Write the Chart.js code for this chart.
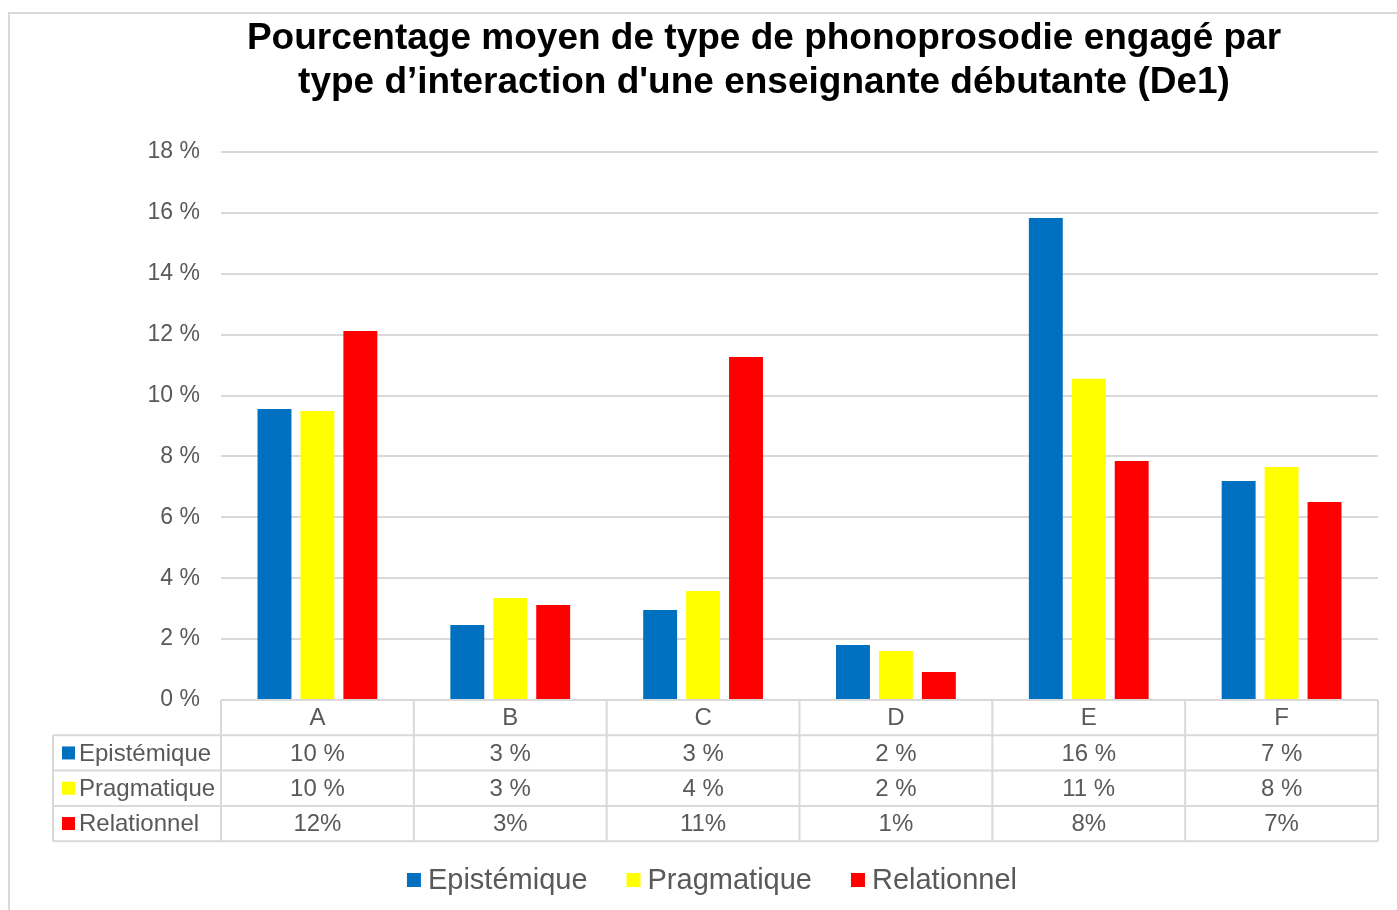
<!DOCTYPE html>
<html>
<head>
<meta charset="utf-8">
<script src="https://cdn.jsdelivr.net/npm/chart.js@4.4.1/dist/chart.umd.min.js"></script>
<style>
  html, body { margin: 0; padding: 0; background: #fff; }
  #wrap { width: 1397px; height: 910px; position: relative; }
</style>
</head>
<body>
<div id="wrap"><canvas id="chart" width="1397" height="910"></canvas></div>
<script>
const categories = ['A', 'B', 'C', 'D', 'E', 'F'];
const seriesNames = ['Epistémique', 'Pragmatique', 'Relationnel'];
const seriesColors = ['#0070C0', '#FFFF00', '#FF0000'];

// bar heights (in %)
const epistemique = [9.56, 2.46, 2.96, 1.81, 15.83, 7.19];
const pragmatique = [9.49, 3.35, 3.58, 1.61, 10.55, 7.65];
const relationnel = [12.12, 3.12, 11.27, 0.92, 7.85, 6.50];

// data table text, as printed under the chart
const epistemiqueLabels = ['10 %', '3 %', '3 %', '2 %', '16 %', '7 %'];
const pragmatiqueLabels = ['10 %', '3 %', '4 %', '2 %', '11 %', '8 %'];
const relationnelLabels = ['12%', '3%', '11%', '1%', '8%', '7%'];

const titleLines = [
    'Pourcentage moyen de type de phonoprosodie engagé par',
    "type d\u2019interaction d'une enseignante débutante (De1)"
];

const textGray = '#595959';
const lineGray = '#d9d9d9';
const fontFam = "'Liberation Sans', Arial, sans-serif";

// title, outer frame, data table and legend
const extras = {
    id: 'extras',
    beforeDraw(chart) {
        const ctx = chart.ctx;
        ctx.save();
        ctx.fillStyle = '#fff';
        ctx.fillRect(0, 0, chart.width, chart.height);
        ctx.strokeStyle = lineGray;
        ctx.lineWidth = 2;
        ctx.strokeRect(9, 13, chart.width + 20, chart.height + 20);
        ctx.restore();
    },
    afterDraw(chart) {
        const ctx = chart.ctx;
        const area = chart.chartArea;
        const x = chart.scales.x;
        const rowH = 35.3;
        const tableLeft = 53;
        const catW = (area.right - area.left) / categories.length;

        ctx.save();
        // title
        ctx.fillStyle = '#000';
        ctx.font = 'bold 37px ' + fontFam;
        ctx.textAlign = 'center';
        ctx.textBaseline = 'middle';
        ctx.fillText(titleLines[0], 764, 39);
        ctx.fillText(titleLines[1], 764, 83);

        // table grid
        ctx.strokeStyle = lineGray;
        ctx.lineWidth = 2;
        ctx.beginPath();
        for (let r = 0; r <= 4; r++) {
            const y = area.bottom + r * rowH;
            ctx.moveTo(r === 0 ? area.left : tableLeft, y);
            ctx.lineTo(area.right, y);
        }
        ctx.moveTo(tableLeft, area.bottom + rowH);
        ctx.lineTo(tableLeft, area.bottom + 4 * rowH);
        for (let i = 0; i <= categories.length; i++) {
            const lx = area.left + i * catW;
            ctx.moveTo(lx, area.bottom);
            ctx.lineTo(lx, area.bottom + 4 * rowH);
        }
        ctx.stroke();

        // table text
        ctx.font = '24px ' + fontFam;
        ctx.fillStyle = textGray;
        ctx.textAlign = 'center';
        const rows = [epistemiqueLabels, pragmatiqueLabels, relationnelLabels];
        categories.forEach((c, i) => {
            const cx = x.getPixelForTick(i);
            ctx.fillText(c, cx, area.bottom + rowH * 0.5 + 1);
            rows.forEach((row, r) => {
                ctx.fillText(row[i], cx, area.bottom + rowH * (r + 1.5) + 1);
            });
        });
        ctx.textAlign = 'left';
        seriesNames.forEach((name, r) => {
            const cy = area.bottom + rowH * (r + 1.5);
            ctx.fillStyle = seriesColors[r];
            ctx.fillRect(62, cy - 6.5, 13, 13);
            ctx.fillStyle = textGray;
            ctx.fillText(name, 79, cy + 1);
        });

        // legend
        ctx.font = '29px ' + fontFam;
        const box = 14, gapText = 7, gapItem = 39;
        const widths = seriesNames.map(n => box + gapText + ctx.measureText(n).width);
        const total = widths.reduce((a, b) => a + b, 0) + gapItem * (seriesNames.length - 1);
        let lx = 712 - total / 2;
        const ly = 880;
        seriesNames.forEach((name, i) => {
            ctx.fillStyle = seriesColors[i];
            ctx.fillRect(lx, ly - box / 2, box, box);
            ctx.fillStyle = textGray;
            ctx.fillText(name, lx + box + gapText, ly + 1);
            lx += widths[i] + gapItem;
        });
        ctx.restore();
    }
};

const datasets = [epistemique, pragmatique, relationnel].map((vals, i) => ({
    label: seriesNames[i],
    data: vals,
    backgroundColor: seriesColors[i],
    categoryPercentage: 0.668,
    barPercentage: 0.79
}));

new Chart(document.getElementById('chart'), {
    type: 'bar',
    data: { labels: categories, datasets },
    options: {
        responsive: false,
        animation: false,
        devicePixelRatio: 1,
        layout: { padding: { top: 152, right: 19, bottom: 210, left: 0 } },
        plugins: {
            legend: { display: false },
            title: { display: false },
            tooltip: { enabled: false }
        },
        scales: {
            x: { display: false },
            y: {
                min: 0,
                max: 18,
                afterFit: s => { s.width = 221; },
                border: { display: false },
                grid: { color: lineGray, lineWidth: 2, drawTicks: false },
                ticks: {
                    stepSize: 2,
                    padding: 21,
                    color: textGray,
                    font: { size: 23, family: fontFam },
                    callback: v => v + ' %'
                }
            }
        }
    },
    plugins: [extras]
});
</script>
</body>
</html>
